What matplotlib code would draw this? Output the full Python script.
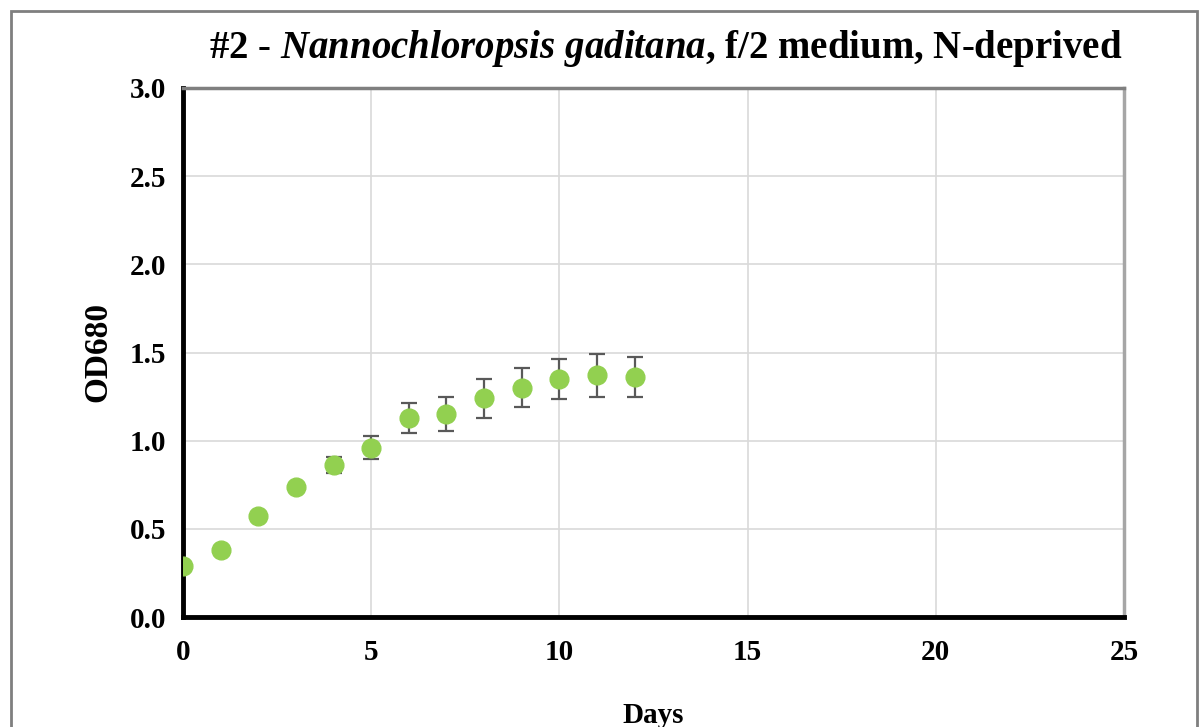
import matplotlib
matplotlib.use("Agg")
import matplotlib.pyplot as plt
from matplotlib.patches import Rectangle

#------------------------------------------data---------------------------------------------------------
days = [0, 1, 2, 3, 4, 5, 6, 7, 8, 9, 10, 11, 12]
od680 = [0.29, 0.38, 0.57, 0.74, 0.86, 0.96, 1.13, 1.15, 1.24, 1.30, 1.35, 1.37, 1.36]
od680_err = [0.0, 0.0, 0.0, 0.0, 0.045, 0.065, 0.085, 0.095, 0.11, 0.11, 0.115, 0.12, 0.115]

x_ticks = [0, 5, 10, 15, 20, 25]
y_ticks = [0.0, 0.5, 1.0, 1.5, 2.0, 2.5, 3.0]

#------------------------------------------plot---------------------------------------------------------
plt.rcParams['font.family'] = ['Liberation Serif', 'DejaVu Serif']
plt.rcParams['font.weight'] = 'bold'
plt.rcParams['mathtext.fontset'] = 'custom'
plt.rcParams['mathtext.it'] = 'Liberation Serif:italic:bold'
plt.rcParams['mathtext.rm'] = 'Liberation Serif:bold'

fig = plt.figure(figsize=(12, 7.27), dpi=100)
ax = fig.add_axes([183/1200, 1-617/727, (1124-183)/1200, (617-88)/727])

ax.errorbar(days, od680, yerr=od680_err, fmt='o', color='#92D050', markersize=13.5,
            ecolor='#595959', elinewidth=1.6, capsize=6, capthick=1.6, zorder=3)

ax.set_xlim(0, 25)
ax.set_ylim(0, 3.0)
ax.set_xticks(x_ticks)
ax.set_yticks(y_ticks)
ax.set_xticklabels([str(t) for t in x_ticks])
ax.set_yticklabels(['{:.1f}'.format(t) for t in y_ticks])
ax.tick_params(length=0, labelsize=21, pad=12)
ax.tick_params(axis='x', pad=16)
for lab in ax.get_xticklabels() + ax.get_yticklabels():
	lab.set_fontweight('bold')

ax.grid(True, color='#d9d9d9', linewidth=1.2, zorder=0)
ax.set_axisbelow(True)

ax.spines['left'].set_color('black')
ax.spines['left'].set_linewidth(3.5)
ax.spines['bottom'].set_color('black')
ax.spines['bottom'].set_linewidth(3.5)
ax.spines['top'].set_color('#7f7f7f')
ax.spines['top'].set_linewidth(2.5)
ax.spines['right'].set_color('#a6a6a6')
ax.spines['right'].set_linewidth(2.5)

ax.set_xlabel('Days', fontsize=21, fontweight='bold', labelpad=26)
ax.set_ylabel('OD680', fontsize=24, fontweight='bold', labelpad=12)

fig.text(0.555, 0.933, r'#2 - $Nannochloropsis\ gaditana$, f/2 medium, N-deprived',
         ha='center', va='center', fontsize=28, fontweight='bold')

# outer frame
fig.patches.append(Rectangle((11/1200, -0.05), (1197-11)/1200, 1.05-11/727, transform=fig.transFigure,
                             fill=False, edgecolor='#7f7f7f', linewidth=2))

fig.savefig('out.png', dpi=100)
